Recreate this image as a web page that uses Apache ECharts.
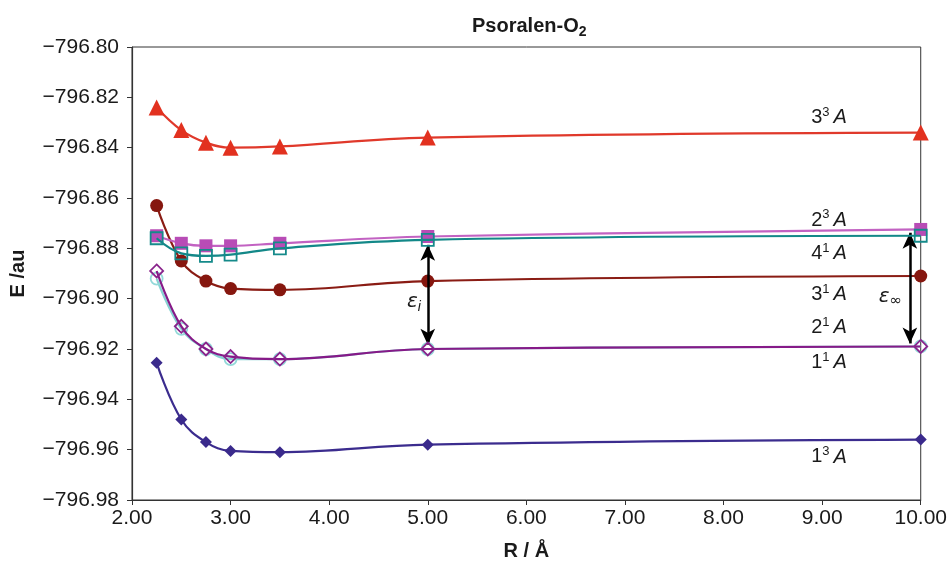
<!DOCTYPE html>
<html>
<head>
<meta charset="utf-8">
<script src="https://cdn.jsdelivr.net/npm/echarts@6/dist/echarts.min.js"></script>
<style>
  html, body { margin: 0; padding: 0; background: #fff; }
  #chart { width: 950px; height: 566px; }
</style>
</head>
<body>
<div id="chart"></div>
<script>
// Interatomic distance R (Å)
const R = [2.25, 2.5, 2.75, 3.0, 3.5, 5.0, 10.0];

// Energies E (au) of each electronic state
const E_3_3A = [-796.824, -796.833, -796.838, -796.840, -796.8395, -796.836, -796.834];
const E_2_3A = [-796.875, -796.878, -796.879, -796.879, -796.878, -796.8753, -796.8725];
const E_4_1A = [-796.876, -796.882, -796.883, -796.8825, -796.880, -796.8766, -796.875];
const E_3_1A = [-796.863, -796.885, -796.893, -796.896, -796.8965, -796.893, -796.891];
const E_2_1A = [-796.892, -796.912, -796.920, -796.924, -796.924, -796.920, -796.919];
const E_1_1A = [-796.889, -796.911, -796.920, -796.923, -796.924, -796.920, -796.919];
const E_1_3A = [-796.9255, -796.948, -796.957, -796.9605, -796.961, -796.958, -796.956];

// Axis ticks
const xTicks = [2, 3, 4, 5, 6, 7, 8, 9, 10];
const yTicks = [-796.98, -796.96, -796.94, -796.92, -796.90, -796.88, -796.86, -796.84, -796.82, -796.80];

const FONT = '"Liberation Sans", Arial, Helvetica, sans-serif';
const TXT = '#1a1a1a';

const pair = (ys) => R.map((r, i) => [r, ys[i]]);

// rich-text styles for state labels like 3^3 A
const stateRich = {
  n: { fontFamily: FONT, fontSize: 20, color: TXT, lineHeight: 24 },
  s: { fontFamily: FONT, fontSize: 13, color: TXT, lineHeight: 8, verticalAlign: 'top' },
  a: { fontFamily: FONT, fontSize: 20, color: TXT, fontStyle: 'italic', lineHeight: 24, padding: [0, 0, 0, 4] }
};

function stateLabel(x, y, n, s) {
  return {
    coord: [x, y],
    symbol: 'circle',
    symbolSize: 0,
    label: {
      show: true,
      position: 'inside',
      formatter: '{n|' + n + '}{s|' + s + '}{a|A}',
      rich: stateRich
    }
  };
}

function lineSeries(name, ys, color, lineColor, symbol, size, open, z, extra) {
  const s = {
    name: name,
    type: 'line',
    data: pair(ys),
    smooth: 0.4,
    symbol: symbol,
    symbolSize: size,
    z: z,
    lineStyle: { color: lineColor, width: 2.2 },
    itemStyle: open
      ? { color: 'rgba(255,255,255,0)', borderColor: color, borderWidth: 1.8 }
      : { color: color, borderWidth: 0 },
    emphasis: { disabled: true },
    silent: true
  };
  return Object.assign(s, extra || {});
}

const arrowStyle = {
  symbol: ['arrow', 'arrow'],
  symbolSize: [11, 16],
  silent: true,
  label: { show: false },
  lineStyle: { color: '#000', width: 2.5, type: 'solid' }
};

const epsRich = {
  e: { fontFamily: 'DejaVu Sans, sans-serif', fontSize: 20, fontStyle: 'italic', color: TXT, lineHeight: 24 },
  i: { fontFamily: FONT, fontSize: 14, fontStyle: 'italic', color: TXT, lineHeight: 8, verticalAlign: 'bottom' },
  inf: { fontFamily: 'DejaVu Sans, sans-serif', fontSize: 15, color: TXT, lineHeight: 8, verticalAlign: 'bottom' }
};

const chart = echarts.init(document.getElementById('chart'), null, { renderer: 'canvas' });

chart.setOption({
  animation: false,
  backgroundColor: '#fff',
  title: {
    text: '{b|Psoralen-O}{sub|2}',
    left: 467,
    top: 8,
    textStyle: {
      rich: {
        b: { fontFamily: FONT, fontSize: 20, fontWeight: 'bold', color: TXT, lineHeight: 26 },
        sub: { fontFamily: FONT, fontSize: 14, fontWeight: 'bold', color: TXT, lineHeight: 8, verticalAlign: 'bottom' }
      }
    }
  },
  grid: {
    left: 132, right: 28, top: 47, bottom: 66,
    show: true, borderColor: '#333', borderWidth: 1, backgroundColor: 'transparent'
  },
  xAxis: {
    type: 'value',
    min: xTicks[0], max: xTicks[xTicks.length - 1], interval: 1,
    name: 'R / Å',
    nameLocation: 'middle',
    nameGap: 41,
    nameTextStyle: { fontFamily: FONT, fontSize: 20, fontWeight: 'bold', color: TXT },
    axisLine: { lineStyle: { color: '#333', width: 1.2 } },
    axisTick: { show: true, length: 5, inside: false, lineStyle: { color: '#333' } },
    axisLabel: { fontFamily: FONT, fontSize: 21, color: TXT, margin: 8, formatter: v => v.toFixed(2) },
    splitLine: { show: false }
  },
  yAxis: {
    type: 'value',
    min: yTicks[0], max: yTicks[yTicks.length - 1], interval: 0.02,
    name: 'E /au',
    nameLocation: 'middle',
    nameRotate: 90,
    nameGap: 104,
    nameTextStyle: { fontFamily: FONT, fontSize: 20, fontWeight: 'bold', color: TXT },
    axisLine: { show: true, lineStyle: { color: '#333', width: 1.2 } },
    axisTick: { show: true, length: 5, inside: false, lineStyle: { color: '#333' } },
    axisLabel: {
      fontFamily: FONT, fontSize: 21, color: TXT, margin: 13,
      formatter: v => '\u2212' + Math.abs(v).toFixed(2)
    },
    splitLine: { show: false }
  },
  series: [
    lineSeries('3³A', E_3_3A, '#e2311f', '#e0392b', 'triangle', 16, false, 2, {
      markPoint: { silent: true, data: [stateLabel(9.07, -796.828, '3', '3')] }
    }),
    lineSeries('3¹A', E_3_1A, '#86170f', '#8a1c14', 'circle', 13, false, 3, {
      markPoint: { silent: true, data: [stateLabel(9.07, -796.8985, '3', '1')] }
    }),
    lineSeries('2³A', E_2_3A, '#b84cb6', '#c262c2', 'rect', 13, false, 4, {
      markPoint: { silent: true, data: [stateLabel(9.07, -796.8689, '2', '3')] }
    }),
    lineSeries('4¹A', E_4_1A, '#158a8a', '#138888', 'rect', 12, true, 5, {
      markPoint: { silent: true, data: [stateLabel(9.07, -796.8821, '4', '1')] },
      markLine: Object.assign({
        data: [
          [{ coord: [5.0, -796.8786] }, { coord: [5.0, -796.9183] }],
          [{ coord: [9.89, -796.8738] }, { coord: [9.89, -796.9178] }]
        ]
      }, arrowStyle)
    }),
    lineSeries('1³A', E_1_3A, '#3a2a8c', '#3b2c8e', 'diamond', 12, false, 6, {
      markPoint: { silent: true, data: [stateLabel(9.07, -796.9629, '1', '3')] }
    }),
    lineSeries('2¹A', E_2_1A, '#93d9d9', '#86d2d2', 'circle', 12, true, 7, {
      markPoint: { silent: true, data: [stateLabel(9.07, -796.9116, '2', '1')] }
    }),
    lineSeries('1¹A', E_1_1A, '#8a248c', '#861a88', 'diamond', 13, true, 8, {
      markPoint: {
        silent: true,
        data: [
          stateLabel(9.07, -796.9255, '1', '1'),
          {
            coord: [4.93, -796.9012], symbolSize: 0,
            label: { show: true, position: 'left', distance: 0, formatter: '{e|ε}{i|i}', rich: epsRich }
          },
          {
            coord: [9.81, -796.8993], symbolSize: 0,
            label: { show: true, position: 'left', distance: 0, formatter: '{e|ε}{inf|∞}', rich: epsRich }
          }
        ]
      }
    })
  ]
});
</script>
</body>
</html>
